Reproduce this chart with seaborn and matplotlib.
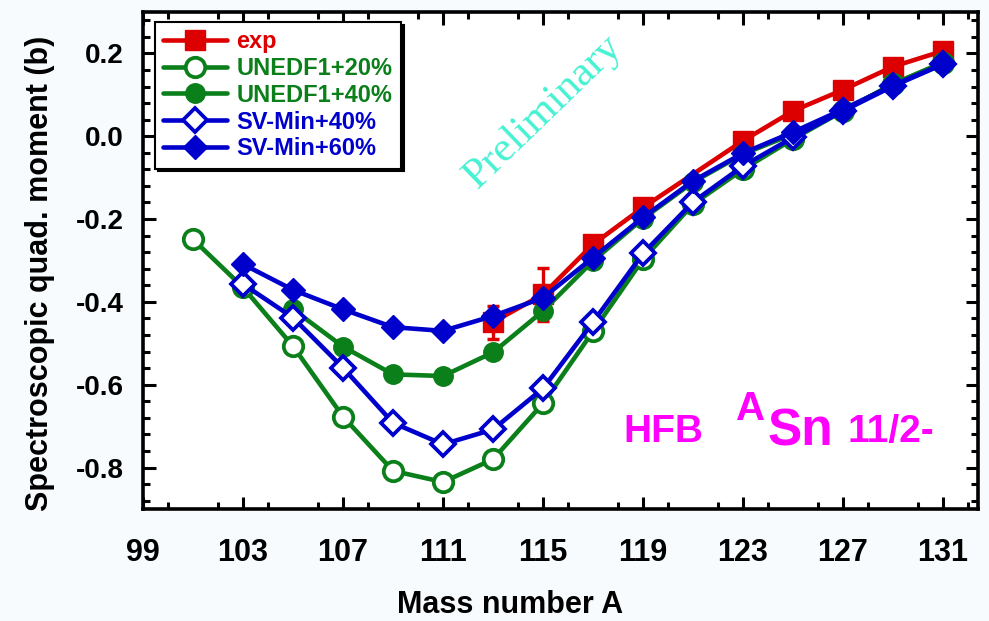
import numpy as np
import matplotlib
matplotlib.use("Agg")
import matplotlib.pyplot as plt
import seaborn as sns
from matplotlib import font_manager as fm
from matplotlib.ticker import MultipleLocator

# ---------------- data ----------------
A_exp = [113, 115, 117, 119, 123, 125, 127, 129, 131]
Q_exp = [-0.449, -0.382, -0.261, -0.172, -0.011, 0.061, 0.112, 0.168, 0.206]
A_err = [113, 115]
Q_err_val = [-0.449, -0.382]
err = [0.040, 0.064]

A_u20 = [101, 103, 105, 107, 109, 111, 113, 115, 117, 119, 121, 123, 125, 127, 129, 131]
Q_u20 = [-0.249, -0.365, -0.507, -0.677, -0.808, -0.835, -0.780, -0.645, -0.471,
         -0.297, -0.164, -0.080, -0.007, 0.061, 0.126, 0.178]

A_u40 = [105, 107, 109, 111, 113, 115, 117, 119, 121, 123, 125, 127, 129, 131]
Q_u40 = [-0.418, -0.508, -0.575, -0.579, -0.522, -0.422, -0.301, -0.199, -0.111,
         -0.043, 0.005, 0.061, 0.126, 0.178]

A_s40 = [103, 105, 107, 109, 111, 113, 115, 117, 119, 121, 123, 125, 127, 129, 131]
Q_s40 = [-0.357, -0.438, -0.559, -0.692, -0.744, -0.708, -0.609, -0.449, -0.283,
         -0.159, -0.072, -0.003, 0.061, 0.121, 0.174]

A_s60 = [103, 105, 107, 109, 111, 113, 115, 117, 119, 121, 123, 125, 127, 129, 131]
Q_s60 = [-0.309, -0.371, -0.418, -0.461, -0.470, -0.434, -0.390, -0.293, -0.196,
         -0.108, -0.041, 0.010, 0.065, 0.123, 0.174]

x_ticks = [99, 103, 107, 111, 115, 119, 123, 127, 131]
y_ticks = [-0.8, -0.6, -0.4, -0.2, 0.0, 0.2]

RED = "#dd0000"
GREEN = "#0a7f1a"
BLUE = "#0000cc"
MAG = "#ff00ff"
CYAN = "#45f2d2"

# ---------------- fonts ----------------
def have(name):
    try:
        fm.findfont(fm.FontProperties(family=name), fallback_to_default=False)
        return True
    except Exception:
        return False

SANS = "Liberation Sans" if have("Liberation Sans") else "DejaVu Sans"
SERIF = "Liberation Serif" if have("Liberation Serif") else "DejaVu Serif"

sns.set_theme(style="ticks")
plt.rcParams["font.family"] = [SANS, "DejaVu Sans"]
plt.rcParams["text.color"] = "black"
plt.rcParams["xtick.color"] = "black"
plt.rcParams["ytick.color"] = "black"
plt.rcParams["axes.labelcolor"] = "black"

fig = plt.figure(figsize=(9.89, 6.21), dpi=100, facecolor="#f8fbfd")
ax = fig.add_axes([0.1446, 0.1804, 0.8443, 0.8003])
ax.set_facecolor("white")

lw = 3.3
sns.lineplot(x=A_exp, y=Q_exp, ax=ax, color=RED, lw=lw, marker="s", markersize=15,
             markerfacecolor=RED, markeredgecolor=RED, markeredgewidth=1,
             errorbar=None, label="exp", zorder=3)
ax.errorbar(A_err, Q_err_val, yerr=err, fmt="none", ecolor=RED, elinewidth=2.4,
            capsize=4, capthick=2.5, zorder=3)
sns.lineplot(x=A_u20, y=Q_u20, ax=ax, color=GREEN, lw=lw, marker="o", markersize=14,
             markerfacecolor="white", markeredgecolor=GREEN, markeredgewidth=2.7,
             errorbar=None, label="UNEDF1+20%", zorder=4)
sns.lineplot(x=A_u40, y=Q_u40, ax=ax, color=GREEN, lw=lw, marker="o", markersize=14,
             markerfacecolor=GREEN, markeredgecolor=GREEN, markeredgewidth=1,
             errorbar=None, label="UNEDF1+40%", zorder=5)
sns.lineplot(x=A_s40, y=Q_s40, ax=ax, color=BLUE, lw=lw, marker="D", markersize=12,
             markerfacecolor="white", markeredgecolor=BLUE, markeredgewidth=2.7,
             errorbar=None, label="SV-Min+40%", zorder=6)
sns.lineplot(x=A_s60, y=Q_s60, ax=ax, color=BLUE, lw=lw, marker="D", markersize=12,
             markerfacecolor=BLUE, markeredgecolor=BLUE, markeredgewidth=1,
             errorbar=None, label="SV-Min+60%", zorder=7)

ax.set_xlim(99, 132.4)
ax.set_ylim(-0.9, 0.3)
ax.set_xticks(x_ticks)
ax.set_xticklabels([str(t) for t in x_ticks], fontweight="bold", fontsize=22)
ax.set_yticks(y_ticks)
ax.set_yticklabels([f"{t:.1f}" for t in y_ticks], fontweight="bold", fontsize=20)
ax.xaxis.set_minor_locator(MultipleLocator(2))
ax.yaxis.set_minor_locator(MultipleLocator(0.04))
ax.tick_params(which="both", direction="in", top=True, right=True, color="black",
               width=2.2)
ax.tick_params(which="major", length=9)
ax.tick_params(which="minor", length=5)
ax.tick_params(axis="x", which="major", pad=21)
ax.tick_params(axis="y", which="major", pad=14)
for s in ax.spines.values():
    s.set_linewidth(2.6)
    s.set_color("black")

ax.set_xlabel("Mass number A", fontweight="bold", fontsize=22)
ax.set_ylabel("Spectroscopic quad. moment (b)", fontweight="bold", fontsize=22)
ax.xaxis.set_label_coords(0.4395, -0.163)
ax.yaxis.set_label_coords(-0.105, 0.475)

leg = ax.legend(loc="upper left", bbox_to_anchor=(0.0144, 0.98), borderaxespad=0,
                frameon=True, fancybox=False, shadow={"color": "black", "alpha": 1},
                edgecolor="black", framealpha=1, facecolor="white",
                prop={"weight": "bold", "size": 17}, labelcolor="linecolor",
                handlelength=2.7, labelspacing=0.16, borderpad=0.35, handletextpad=0.4,
                numpoints=1)
leg.get_frame().set_linewidth(1.5)

ax.text(115.0, 0.06, "Preliminary", fontfamily=SERIF, fontsize=31, color=CYAN,
        rotation=44, ha="center", va="center", rotation_mode="anchor")
ax.text(118.2, -0.739, "HFB", color=MAG, fontweight="bold", fontsize=28,
        ha="left", va="baseline")
ax.text(122.72, -0.684, "A", color=MAG, fontweight="bold", fontsize=29,
        ha="left", va="baseline")
ax.text(124.0, -0.746, "Sn", color=MAG, fontweight="bold", fontsize=37,
        ha="left", va="baseline")
ax.text(127.16, -0.739, "11/2-", color=MAG, fontweight="bold", fontsize=28,
        ha="left", va="baseline")

fig.savefig("out.png", dpi=100, facecolor=fig.get_facecolor())
